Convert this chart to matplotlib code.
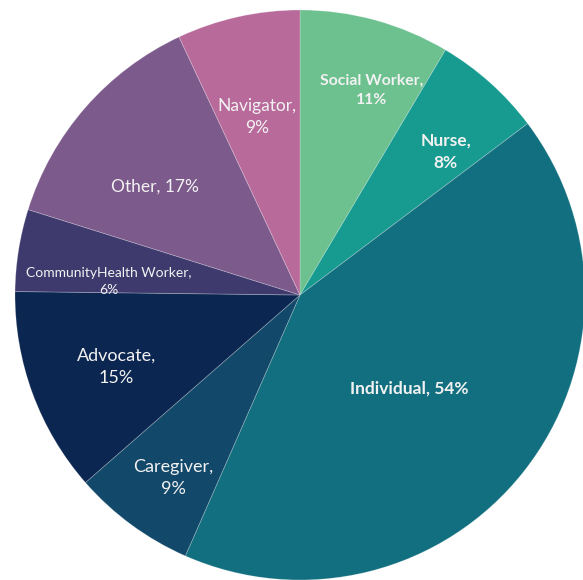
import numpy as np
import matplotlib
matplotlib.use('Agg')
import matplotlib.pyplot as plt

plt.rcParams['font.family'] = ['Lato', 'DejaVu Sans']

# data, clockwise from 12 o'clock
roles = ['Social Worker', 'Nurse', 'Individual', 'Caregiver', 'Advocate',
         'CommunityHealth Worker', 'Other', 'Navigator']
percent = [11, 8, 54, 9, 15, 6, 17, 9]
colors = ['#6cc18f', '#179a8f', '#126f80', '#124869', '#0b2650',
          '#3e3a6e', '#7c5a8c', '#b86a9b']

# label text layout
label_text = ['Social Worker,\n11%', 'Nurse,\n8%', 'Individual, 54%',
              'Caregiver,\n9%', 'Advocate,\n15%',
              'CommunityHealth Worker,\n6%', 'Other, 17%', 'Navigator,\n9%']
label_dist = [0.762, 0.717, 0.503, 0.781, 0.693, 0.672, 0.635, 0.642]
label_nudge = [4, 3.7, 2.1, -1.5, -1.2, -4.9, -4.5, -1]  # deg, clockwise
label_size = [11.3, 12.5, 12.5, 13, 13, 10, 12.5, 12.5]
label_bold = [True, True, True, False, False, False, False, False]

W, H = 583, 580
cx, cy, R = 300, 295, 285  # pie centre / radius in pixels

fig = plt.figure(figsize=(W / 100, H / 100), dpi=100)
ax = fig.add_axes([0, 0, 1, 1])
wedges, _ = ax.pie(percent, colors=colors, startangle=90, counterclock=False,
                   wedgeprops=dict(edgecolor=(1, 1, 1, 0.25), linewidth=0.6))
ax.set_xlim(-cx / R, (W - cx) / R)
ax.set_ylim(-(H - cy) / R, cy / R)
ax.set_aspect('equal')
ax.axis('off')

for w, txt, d, nd, fs, b in zip(wedges, label_text, label_dist, label_nudge,
                                label_size, label_bold):
    ang = np.deg2rad((w.theta1 + w.theta2) / 2. - nd)
    ax.text(d * np.cos(ang), d * np.sin(ang), txt, ha='center', va='center',
            color='#f2f2f2', fontsize=fs, linespacing=1.5,
            fontweight='bold' if b else 'normal')

plt.savefig('out.png', dpi=100)
